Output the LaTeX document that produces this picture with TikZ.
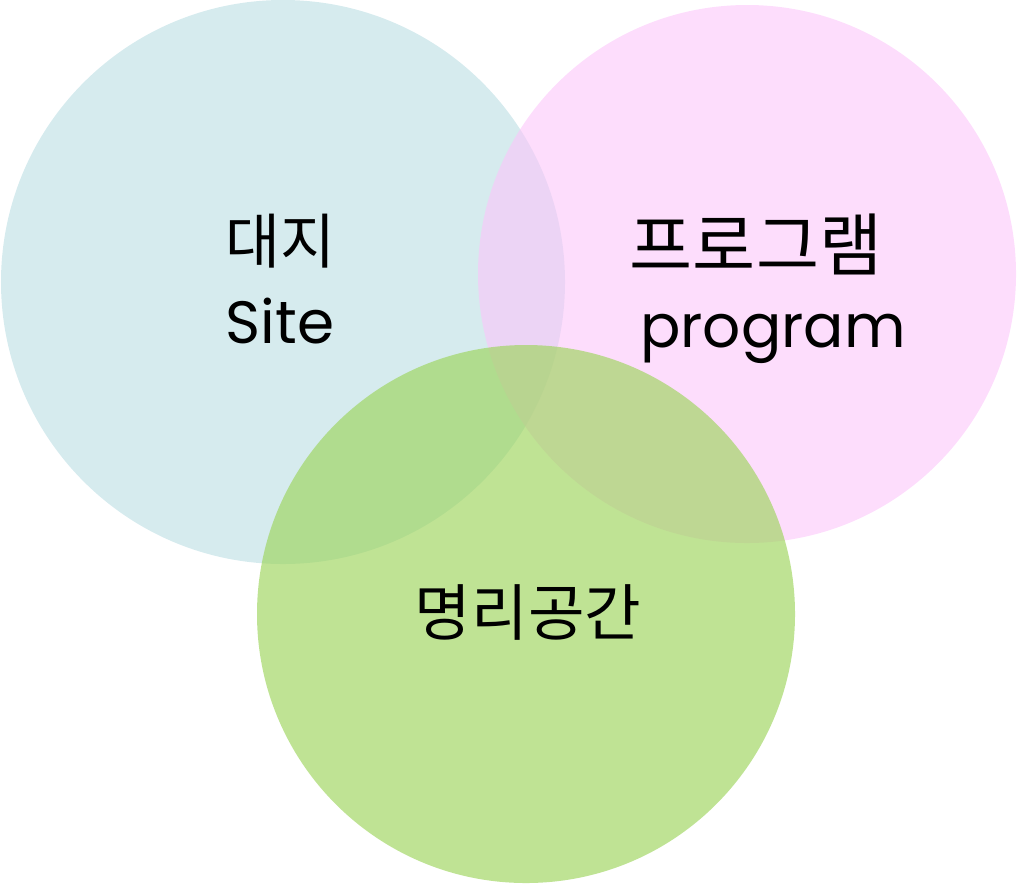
\documentclass[tikz,border=0pt]{standalone}
\usepackage{fontspec}
\setmainfont{Poppins}
\newfontfamily\kr{Noto Sans CJK KR}
\usepackage{xcolor}
\usepackage{tikz}
\usetikzlibrary{positioning}
\definecolor{siteblue}{RGB}{214,235,238}
\definecolor{progpink}{RGB}{252,198,250}
\definecolor{spacegreen}{RGB}{157,212,91}

\begin{document}
\begin{tikzpicture}[every node/.style={inner sep=0pt, text=black},
  krlabel/.style={font=\kr\fontsize{17pt}{20pt}\selectfont},
  enlabel/.style={font=\fontsize{17pt}{20pt}\selectfont}]
\useasboundingbox (0,0) rectangle (10.17,-8.83);

% Site circle (left)
\fill[siteblue] (2.83,-2.82) circle (2.82);

% Program circle (right)
\fill[progpink, fill opacity=0.6] (7.47,-2.74) circle (2.69);

% Space circle (bottom)
\fill[spacegreen, fill opacity=0.65] (5.26,-6.14) circle (2.69);

% Labels
\node[krlabel] (site kr) at (2.80,-2.41) {대지};
\node[enlabel, anchor=base] (site en) at (2.80,-3.43) {Site};
\node[krlabel, font=\kr\fontsize{19.5pt}{22pt}\selectfont] (prog kr) at (7.56,-2.44) {프로그램};
\node[enlabel, anchor=base] (prog en) at (7.73,-3.47) {program};
\node[krlabel, font=\kr\fontsize{17.5pt}{20pt}\selectfont] (space kr) at (5.28,-6.12) {명리공간};
\end{tikzpicture}
\end{document}
